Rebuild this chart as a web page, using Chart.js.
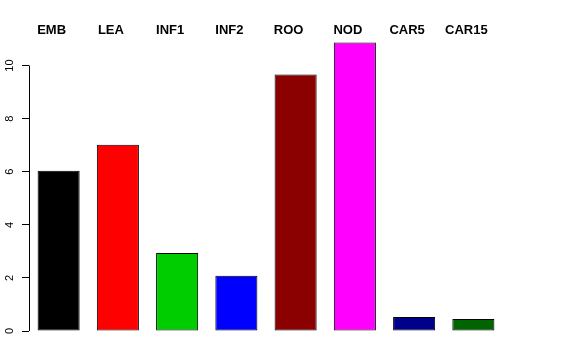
<!DOCTYPE html>
<html>
<head>
<meta charset="utf-8">
<script src="https://cdn.jsdelivr.net/npm/chart.js@4"></script>
<style>
  body { margin: 0; background: #fff; }
</style>
</head>
<body>
<canvas id="myChart" width="576" height="360"></canvas>
<script>
/* data */
const categories = ['EMB', 'LEA', 'INF1', 'INF2', 'ROO', 'NOD', 'CAR5', 'CAR15'];
const values = [6.04, 7.02, 2.94, 2.08, 9.66, 10.87, 0.53, 0.45];
const barColors = ['#000000', '#FF0000', '#00CD00', '#0000FF', '#8B0000', '#FF00FF', '#00008B', '#006400'];
const yTicks = [0, 2, 4, 6, 8, 10];

/* axis line, rotated tick labels and top labels, R style */
const rStyle = {
  id: 'rStyle',
  afterDraw(chart) {
    const ctx = chart.ctx;
    const y = chart.scales.y;
    const x = chart.scales.x;
    const left = chart.chartArea.left;
    ctx.save();
    ctx.strokeStyle = '#000';
    ctx.lineWidth = 1;
    ctx.beginPath();
    ctx.moveTo(left + 0.5, y.getPixelForValue(yTicks[0]));
    ctx.lineTo(left + 0.5, y.getPixelForValue(yTicks[yTicks.length - 1]));
    ctx.stroke();

    ctx.fillStyle = '#000';
    ctx.font = '11px "Liberation Sans", Arial, sans-serif';
    ctx.textAlign = 'center';
    ctx.textBaseline = 'middle';
    yTicks.forEach(function(t) {
      ctx.save();
      ctx.translate(10, y.getPixelForValue(t));
      ctx.rotate(-Math.PI / 2);
      ctx.fillText(String(t), 0, 0);
      ctx.restore();
    });

    ctx.font = 'bold 13px "Liberation Sans", Arial, sans-serif';
    categories.forEach(function(c, i) {
      ctx.fillText(c, x.getPixelForValue(i) - 7, 30);
    });
    ctx.restore();
  }
};

var ctx = document.getElementById('myChart').getContext('2d');

new Chart(ctx, {
  type: 'bar',
  data: {
    labels: categories,
    datasets: [{
      data: values,
      backgroundColor: barColors,
      borderColor: '#000',
      borderWidth: 1,
      borderSkipped: false,
      barPercentage: 0.71,
      categoryPercentage: 1,
    }]
  },
  options: {
    responsive: false,
    animation: false,
    layout: { padding: { left: 0, right: 73, top: 39, bottom: 29 } },
    plugins: {
      legend: { display: false },
      tooltip: { enabled: false },
    },
    scales: {
      x: { display: false },
      y: {
        min: 0,
        max: 11,
        afterBuildTicks: function(scale) {
          scale.ticks = yTicks.map(function(v) { return { value: v }; });
        },
        afterFit: function(scale) { scale.width = 29; },
        border: { display: false },
        ticks: { display: false },
        grid: {
          drawOnChartArea: false,
          drawTicks: true,
          tickLength: 7,
          color: '#000',
        },
      },
    },
  },
  plugins: [rStyle],
});
</script>
</body>
</html>
